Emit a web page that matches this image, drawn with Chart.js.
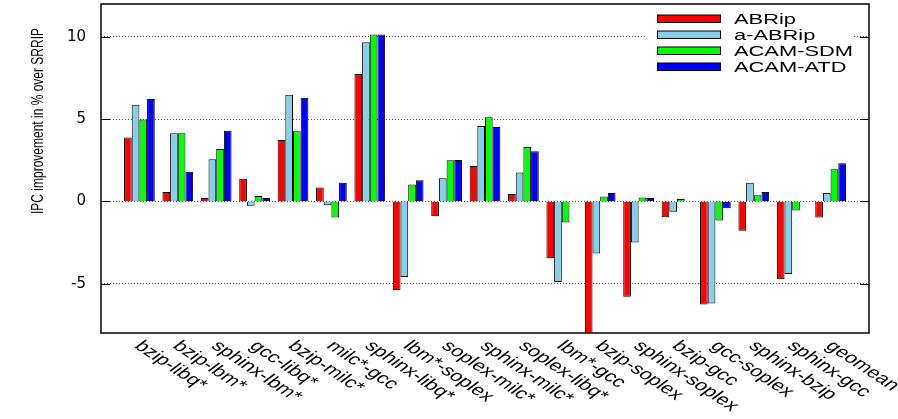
<!DOCTYPE html>
<html>
<head>
<meta charset="utf-8">
<script src="https://cdn.jsdelivr.net/npm/chart.js@4/dist/chart.umd.min.js"></script>
<style>
  html, body { margin: 0; padding: 0; background: #fff; }
  #wrap { width: 898px; height: 419px; }
</style>
</head>
<body>
<div id="wrap"><canvas id="c" width="898" height="419"></canvas></div>
<script>
// Workload mixes along the x axis
const categories = ['bzip-libq*', 'bzip-lbm*', 'sphinx-lbm*', 'gcc-libq*', 'bzip-milc*',
  'milc*-gcc', 'sphinx-libq*', 'lbm*-soplex', 'soplex-milc*', 'sphinx-milc*',
  'soplex-libq*', 'lbm*-gcc', 'bzip-soplex', 'sphinx-soplex', 'bzip-gcc',
  'gcc-soplex', 'sphinx-bzip', 'sphinx-gcc', 'geomean'];

// IPC improvement (%) over SRRIP for each policy
const abrip   = [3.88, 0.57, 0.20, 1.38, 3.74, 0.85, 7.74, -5.39, -0.91, 2.15, 0.45, -3.46, -8.60, -5.79, -0.96, -6.26, -1.79, -4.74, -0.98];
const aAbrip  = [5.87, 4.15, 2.56, -0.26, 6.48, -0.24, 9.67, -4.59, 1.40, 4.59, 1.75, -4.90, -3.17, -2.50, -0.63, -6.20, 1.14, -4.41, 0.51];
const acamSdm = [4.98, 4.15, 3.19, 0.33, 4.27, -0.98, 10.14, 1.02, 2.50, 5.12, 3.31, -1.28, 0.30, 0.24, 0.14, -1.16, 0.37, -0.55, 1.95];
const acamAtd = [6.22, 1.81, 4.29, 0.20, 6.30, 1.14, 10.14, 1.28, 2.52, 4.53, 3.05, -0.03, 0.51, 0.20, 0.04, -0.41, 0.57, -0.02, 2.32];

const seriesNames = ['ABRip', 'a-ABRip', 'ACAM-SDM', 'ACAM-ATD'];
const yTicks = [-5, 0, 5, 10];
const yTitle = 'IPC improvement in % over SRRIP';

const colors = ['#ff0000', '#87ceeb', '#00ff00', '#0000ff'];

// one empty slot on each side so the groups sit one step in from the frame
const labels = ['', ...categories, ''];
const pad = arr => [null, ...arr, null];
const allSeries = [abrip, aAbrip, acamSdm, acamAtd];

const WIDE = 1.42; // horizontal stretch applied to drawn text

const framePlugin = {
  id: 'frame',
  afterDatasetsDraw(chart) {
    const ctx = chart.ctx;
    // legend block, opaque over the grid
    ctx.save();
    ctx.fillStyle = '#fff';
    ctx.fillRect(646, 6, 208, 70);
    for (let i = 0; i < seriesNames.length; i++) {
      const by = 15 + 16 * i;
      ctx.fillStyle = colors[i];
      ctx.fillRect(657.5, by, 63, 7.5);
      ctx.strokeStyle = '#000';
      ctx.lineWidth = 1;
      ctx.strokeRect(657.5, by, 63, 7.5);
      ctx.save();
      ctx.translate(734, 23.5 + 16 * i);
      ctx.scale(WIDE, 1);
      ctx.fillStyle = '#000';
      ctx.font = '15.4px "Liberation Sans", Arial, sans-serif';
      ctx.textAlign = 'left';
      ctx.textBaseline = 'alphabetic';
      ctx.fillText(seriesNames[i], 0, 0);
      ctx.restore();
    }
    ctx.restore();
  },
  afterDraw(chart) {
    const ctx = chart.ctx;
    const a = chart.chartArea;
    const ys = chart.scales.y;
    const xs = chart.scales.x;
    ctx.save();
    // inward tick marks on both sides
    ctx.strokeStyle = '#000';
    ctx.lineWidth = 1;
    yTicks.forEach(v => {
      const y = Math.round(ys.getPixelForValue(v)) + 0.5;
      ctx.beginPath();
      ctx.moveTo(a.left, y); ctx.lineTo(a.left + 9, y);
      ctx.moveTo(a.right - 9, y); ctx.lineTo(a.right, y);
      ctx.stroke();
    });
    // frame
    ctx.lineWidth = 1.6;
    ctx.strokeStyle = '#111';
    ctx.strokeRect(a.left, a.top, a.right - a.left, a.bottom - a.top);

    // slanted category labels
    ctx.fillStyle = '#000';
    ctx.font = '15.5px "Liberation Sans", Arial, sans-serif';
    ctx.textAlign = 'left';
    ctx.textBaseline = 'alphabetic';
    categories.forEach((name, i) => {
      const x = xs.getPixelForValue(i + 1);
      ctx.save();
      ctx.translate(x - 6, 347);
      ctx.scale(WIDE, 1);
      ctx.rotate(43 * Math.PI / 180);
      ctx.fillText(name, 0, 0);
      ctx.restore();
    });

    // y axis title
    ctx.save();
    ctx.translate(38, 121);
    ctx.scale(1.45, 1);
    ctx.rotate(-Math.PI / 2);
    ctx.font = '12px "Liberation Sans", Arial, sans-serif';
    ctx.textAlign = 'center';
    ctx.textBaseline = 'middle';
    ctx.fillText(yTitle, 0, 0);
    ctx.restore();
    ctx.restore();
  }
};

new Chart(document.getElementById('c'), {
  type: 'bar',
  data: {
    labels: labels,
    datasets: allSeries.map((s, i) => ({
      label: seriesNames[i],
      data: pad(s),
      backgroundColor: colors[i],
      borderColor: '#000',
      borderWidth: 1,
      categoryPercentage: 0.8,
      barPercentage: 1.0
    }))
  },
  options: {
    responsive: false,
    devicePixelRatio: 1,
    animation: false,
    layout: { padding: { left: 0, top: 4, right: 29, bottom: 0 } },
    plugins: { legend: { display: false }, tooltip: { enabled: false } },
    scales: {
      x: {
        type: 'category',
        offset: false,
        grid: { display: false, drawTicks: false },
        border: { display: false },
        ticks: { display: false },
        afterFit(scale) { scale.height = 86; }
      },
      y: {
        min: -8,
        max: 12,
        afterBuildTicks(scale) { scale.ticks = yTicks.map(v => ({ value: v })); },
        afterFit(scale) {
          scale.width = 101;
          scale.paddingTop = 0;
          scale.paddingBottom = 0;
        },
        grid: { color: 'rgba(0,0,0,0.7)', lineWidth: 1, drawTicks: false },
        border: { display: false, dash: [1, 2] },
        ticks: {
          padding: 15,
          color: '#000',
          font: { family: '"DejaVu Sans", sans-serif', size: 15 }
        }
      }
    }
  },
  plugins: [framePlugin]
});
</script>
</body>
</html>
